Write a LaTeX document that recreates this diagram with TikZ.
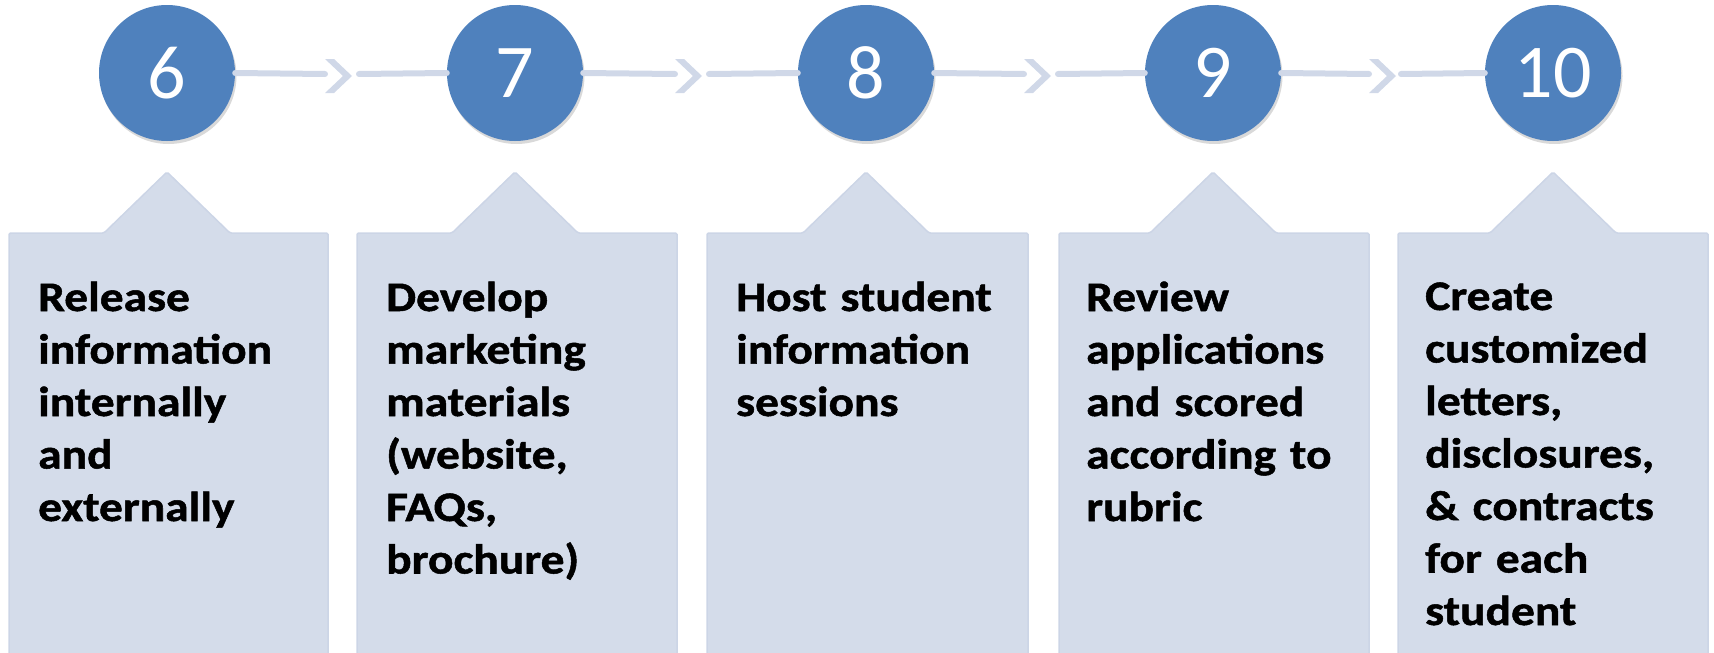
\documentclass[tikz,border=0pt]{standalone}
\usepackage{fontspec}
\setmainfont{Carlito}
\newfontfamily\panefont[FakeStretch=1.13, FakeBold=1.2]{Carlito}
\usetikzlibrary{shadows}

\definecolor{stepblue}{HTML}{4F81BD}
\definecolor{panefill}{HTML}{D4DCEA}
\definecolor{paneline}{HTML}{CCD5E6}
\definecolor{linkgray}{HTML}{D0D8E8}

\begin{document}
\begin{tikzpicture}[x=1pt, y=-1pt]

\tikzstyle{stepdot} = [circle, fill=stepblue, minimum size=136pt, inner sep=0pt,
  text=white, font=\fontsize{76}{80}\selectfont,
  drop shadow={opacity=0.3, shadow xshift=1.5pt, shadow yshift=-3pt}]
\tikzstyle{pane} = [fill=panefill, draw=paneline, line width=1.5pt, rounded corners=1.5pt]
\tikzstyle{panetext} = [anchor=base west, inner sep=0pt, text width=300pt, align=left,
  font=\panefont\bfseries\fontsize{42}{52.5}\selectfont]
\tikzstyle{link} = [draw=linkgray, line width=6pt, line cap=round]
\tikzstyle{chev} = [fill=linkgray]

\useasboundingbox (0,0) rectangle (1714,653);

% callout panes
\draw[pane] (9,660) -- (9,233) -- (104,233) -- (167,172) -- (230,233) -- (328,233) -- (328,660);
\draw[pane] (357,660) -- (357,233) -- (452,233) -- (515,172) -- (578,233) -- (677,233) -- (677,660);
\draw[pane] (707,660) -- (707,233) -- (803,233) -- (866,172) -- (929,233) -- (1028,233) -- (1028,660);
\draw[pane] (1059,660) -- (1059,233) -- (1150,233) -- (1213,172) -- (1276,233) -- (1369,233) -- (1369,660);
\draw[pane] (1398,660) -- (1398,233) -- (1490,233) -- (1553,172) -- (1616,233) -- (1708,233) -- (1708,660);

\node[panetext] (t6) at (38,311) {Release\\information\\internally\\and\\externally};
\node[panetext] (t7) at (386,311) {Develop\\marketing\\materials\\(website,\\FAQs,\\brochure)};
\node[panetext] (t8) at (736,311) {Host student\\information\\sessions};
\node[panetext] (t9) at (1086,311) {Review\\applications\\and scored\\according to\\rubric};
\node[panetext] (t10) at (1425,310) {Create\\customized\\letters,\\disclosures,\\\& contracts\\for each\\student};

% step circles
\node[stepdot] (c6) at (167,73) {6};
\node[stepdot] (c7) at (515,73) {7};
\node[stepdot] (c8) at (866,73) {8};
\node[stepdot] (c9) at (1213,73) {9};
\node[stepdot] (c10) at (1553,73) {10};

% chevrons between the circles
\coordinate (k6) at (325,74);
\coordinate (k7) at (675,74);
\coordinate (k8) at (1024,74);
\coordinate (k9) at (1369,74);

\fill[chev] (k6) ++(0,-15) -- ++(9,0) -- ++(18,17) -- ++(-18,17) -- ++(-9,0) -- ++(18,-17) -- cycle;
\fill[chev] (k7) ++(0,-15) -- ++(9,0) -- ++(18,17) -- ++(-18,17) -- ++(-9,0) -- ++(18,-17) -- cycle;
\fill[chev] (k8) ++(0,-15) -- ++(9,0) -- ++(18,17) -- ++(-18,17) -- ++(-9,0) -- ++(18,-17) -- cycle;
\fill[chev] (k9) ++(0,-15) -- ++(9,0) -- ++(18,17) -- ++(-18,17) -- ++(-9,0) -- ++(18,-17) -- cycle;

\coordinate (j6) at (359,74);
\coordinate (j7) at (709,74);
\coordinate (j8) at (1058,74);
\coordinate (j9) at (1401,74);

\draw[link] (c6.east) -- (k6);
\draw[link] (j6) -- (c7.west);
\draw[link] (c7.east) -- (k7);
\draw[link] (j7) -- (c8.west);
\draw[link] (c8.east) -- (k8);
\draw[link] (j8) -- (c9.west);
\draw[link] (c9.east) -- (k9);
\draw[link] (j9) -- (c10.west);

\end{tikzpicture}
\end{document}
